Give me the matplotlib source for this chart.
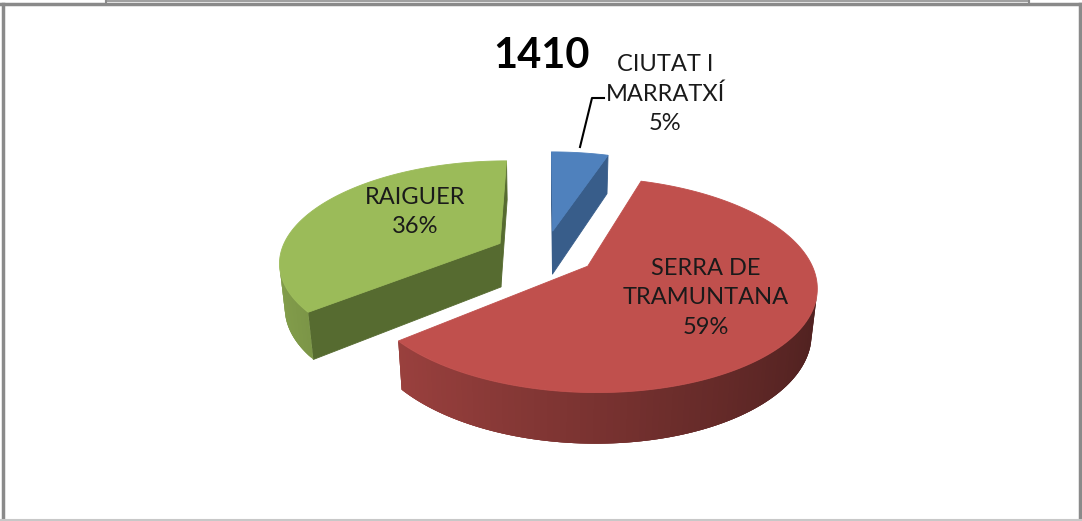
import numpy as np
import matplotlib
matplotlib.use("Agg")
import matplotlib.pyplot as plt
from matplotlib.patches import Polygon
from matplotlib.lines import Line2D

# data
title = "1410"
labels = ["CIUTAT I\nMARRATXÍ", "SERRA DE\nTRAMUNTANA", "RAIGUER"]
values = [5, 59, 36]
top_colors = ["#4F81BD", "#C0504D", "#9BBB59"]
side_colors = ["#385D8A", "#8C3A38", "#566B30"]

# 3d view settings (pixel space of a 1082x521 image)
W, Hpx = 1082, 521
CX, CY = 545, 253
F = 1142.0
D = 5.2
ELEV = np.radians(27)
DEPTH = 0.23
EXPLODE = 0.23
ce, se = np.cos(ELEV), np.sin(ELEV)
cam = np.array([0.0, D * ce, D * se])


def proj(x, y, z):
    d = D - (y * ce + z * se)
    u = F * x / d
    v = F * (-y * se + z * ce) / d
    return CX + u, CY - v


def shade(hexcol, k):
    c = np.array(matplotlib.colors.to_rgb(hexcol))
    return tuple(np.clip(c * k, 0, 1))


def facing(normal, point):
    return np.dot(normal, cam - point) > 0


fig = plt.figure(figsize=(W / 100, Hpx / 100), dpi=100)
ax = fig.add_axes([0, 0, 1, 1])
ax.set_xlim(0, W)
ax.set_ylim(Hpx, 0)
ax.axis("off")

total = float(sum(values))
starts = np.cumsum([0] + values[:-1]) / total * 360
ends = np.cumsum(values) / total * 360

slices = []
for i in range(len(values)):
    t0, t1 = starts[i], ends[i]
    mid = np.radians((t0 + t1) / 2)
    ox, oy = EXPLODE * np.sin(mid), -EXPLODE * np.cos(mid)
    slices.append((oy, i, t0, t1, ox))

# far slices first
for oy, i, t0, t1, ox in sorted(slices):
    th = np.radians(np.linspace(t0, t1, 150))
    rx = ox + np.sin(th)
    ry = oy - np.cos(th)

    # radial walls
    for t, sign in ((np.radians(t0), -1), (np.radians(t1), 1)):
        n = np.array([sign * np.cos(t), sign * np.sin(t), 0.0])
        ex, ey = ox + np.sin(t), oy - np.cos(t)
        p = np.array([(ox + ex) / 2, (oy + ey) / 2, -DEPTH / 2])
        if facing(n, p):
            pts = [proj(ox, oy, 0), proj(ex, ey, 0),
                   proj(ex, ey, -DEPTH), proj(ox, oy, -DEPTH)]
            ax.add_patch(Polygon(pts, closed=True, fc=side_colors[i],
                                 ec=side_colors[i], lw=0.6, zorder=2))

    # curved outer wall, shaded left to right; strips overlap to hide seams
    last = len(th) - 1
    for k in range(last):
        tm = (th[k] + th[k + 1]) / 2
        n = np.array([np.sin(tm), -np.cos(tm), 0.0])
        p = np.array([ox + np.sin(tm), oy - np.cos(tm), -DEPTH / 2])
        if not facing(n, p):
            continue
        k2 = min(k + 3, last)
        col = shade(top_colors[i], 0.63 - 0.22 * np.sin(tm))
        pts = ([proj(rx[j], ry[j], 0) for j in range(k, k2 + 1)] +
               [proj(rx[j], ry[j], -DEPTH) for j in range(k2, k - 1, -1)])
        ax.add_patch(Polygon(pts, closed=True, fc=col, lw=0, zorder=3))

    # top face
    pts = [proj(ox, oy, 0)] + [proj(a, b, 0) for a, b in zip(rx, ry)]
    ax.add_patch(Polygon(pts, closed=True, fc=top_colors[i],
                         ec=top_colors[i], lw=0.6, zorder=4))

font = "Lato"
txt = "#1a1a1a"
ax.text(542, 56, title, ha="center", va="center", fontsize=30,
        fontweight="bold", family=font, color="black", zorder=6)

label_pos = [(665, 94), (706, 298), (415, 212)]
for i, (lx, ly) in enumerate(label_pos):
    ax.text(lx, ly, f"{labels[i]}\n{values[i]}%", ha="center", va="center",
            fontsize=17, family=font, color=txt, linespacing=1.48, zorder=6)

# leader line for the small slice
ax.add_line(Line2D([604, 592, 580], [98, 98, 147], color="black", lw=1.5, zorder=5))

# frame lines
gray = "#8a8a8a"
for xs, ys, c, lw in [
    ([0, W], [3.5, 3.5], gray, 2.5),
    ([2.5, 2.5], [3.5, Hpx], gray, 2.5),
    ([1079.5, 1079.5], [3.5, Hpx], gray, 2.5),
    ([0, W], [520, 520], "#c8c8c8", 1.5),
    ([106, 1029], [0.5, 0.5], "#a0a0a0", 1.5),
    ([106, 106], [0, 3.5], gray, 1.5),
    ([1029, 1029], [0, 3.5], gray, 1.5),
]:
    ax.add_line(Line2D(xs, ys, color=c, lw=lw, zorder=7))

fig.savefig("out.png", dpi=100, facecolor="white")
